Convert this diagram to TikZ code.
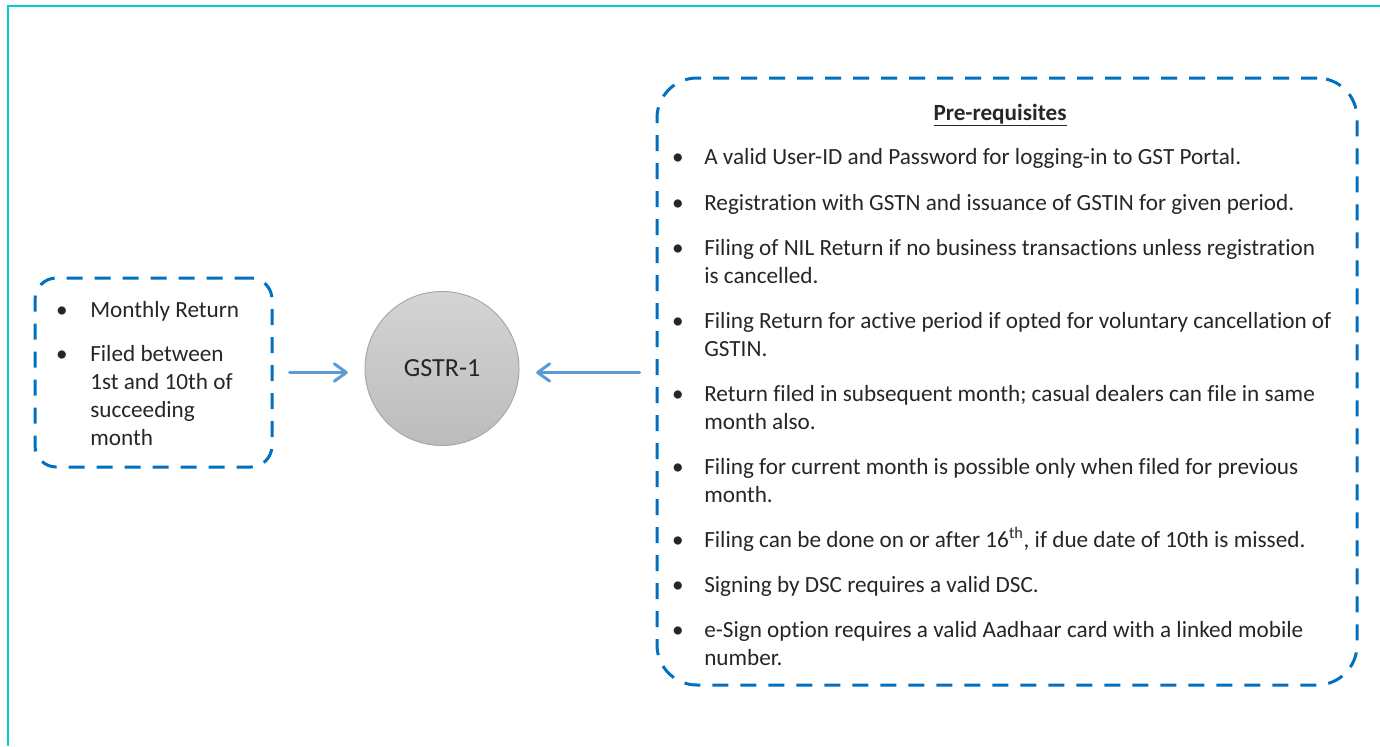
\documentclass[tikz,border=0pt]{standalone}
\usepackage{fontspec}
\setmainfont{Carlito}[Ligatures=NoCommon]
\usepackage{xcolor}
\usepackage{tikz}
\usetikzlibrary{arrows.meta}
\definecolor{frameC}{RGB}{0,206,209}
\definecolor{boxB}{RGB}{0,112,192}
\definecolor{arrowB}{RGB}{91,155,213}
\definecolor{textG}{RGB}{38,38,38}
\definecolor{ballTop}{RGB}{212,212,212}
\definecolor{ballBot}{RGB}{188,188,188}
\definecolor{ballLine}{RGB}{168,168,168}

\begin{document}
\begin{tikzpicture}[x=0.75pt,y=-0.75pt,
    every node/.style={font=\fontsize{17.4}{21}\selectfont, text=textG},
    dashbox/.style={draw=boxB, line width=2.25pt, dash pattern=on 12pt off 9pt, inner sep=0pt},
    bulletpt/.style={anchor=base, inner sep=0pt},
    itemtext/.style={anchor=base west, inner sep=0pt, align=left},
    linkarrow/.style={draw=arrowB, line width=2.25pt, line cap=round, -{Straight Barb[length=9pt,width=13pt,round]}, shorten <=12pt, shorten >=12.5pt}]
    \useasboundingbox (0,0) rectangle (1380,746);

    % draw frame
    \draw[frameC, line width=1.6pt] (8,746) -- (8,6) -- (1380,6);

    % draw boxes
    \node[dashbox, rounded corners=16pt, minimum width=177.75pt, minimum height=141.75pt] (monthbox) at (153.5,372.5) {};
    \node[dashbox, rounded corners=30pt, minimum width=525pt, minimum height=455.25pt] (prebox) at (1007,381.5) {};
    \node[circle, draw=ballLine, line width=0.75pt, top color=ballTop, bottom color=ballBot, minimum size=115.5pt, inner sep=0pt, font=\fontsize{19.6}{24}\selectfont] (gstr) at (442,368.5) {GSTR-1};

    % draw left bullets
    \node[bulletpt] (mb1) at (62,317) {\textbullet};
    \node[itemtext] (mt1) at (90,317) {Monthly Return};
    \node[bulletpt] (mb2) at (62,361) {\textbullet};
    \node[itemtext] (mt2) at (90,445) {Filed between\\1st and 10th of\\succeeding\\month};

    % draw right bullets
    \node[anchor=base, inner sep=0pt] (pretitle) at (1000,120) {\underline{\textbf{Pre-requisites}}};
    \foreach \y/\n/\txt [count=\i] in {
        164/1/{A valid User-ID and Password for logging-in to GST Portal.},
        210/1/{Registration with GSTN and issuance of GSTIN for given period.},
        255/2/{Filing of NIL Return if no business transactions unless registration\\is cancelled.},
        328/2/{Filing Return for active period if opted for voluntary cancellation of\\GSTIN.},
        401/2/{Return filed in subsequent month; casual dealers can file in same\\month also.},
        474/2/{Filing for current month is possible only when filed for previous\\month.},
        547/1/{Filing can be done on or after 16\textsuperscript{th}, if due date of 10th is missed.},
        592/1/{Signing by DSC requires a valid DSC.},
        637/2/{e-Sign option requires a valid Aadhaar card with a linked mobile\\number.}}
    {
        \node[bulletpt] (pb\i) at (678,\y) {\textbullet};
        \node[itemtext] (pt\i) at (704,{\y+28*(\n-1)}) {\txt};
    }

    % draw arrows
    \draw[linkarrow] (monthbox.east) -- (monthbox.east -| gstr.west);
    \draw[linkarrow] (prebox.west |- monthbox.east) -- (monthbox.east -| gstr.east);
\end{tikzpicture}
\end{document}
